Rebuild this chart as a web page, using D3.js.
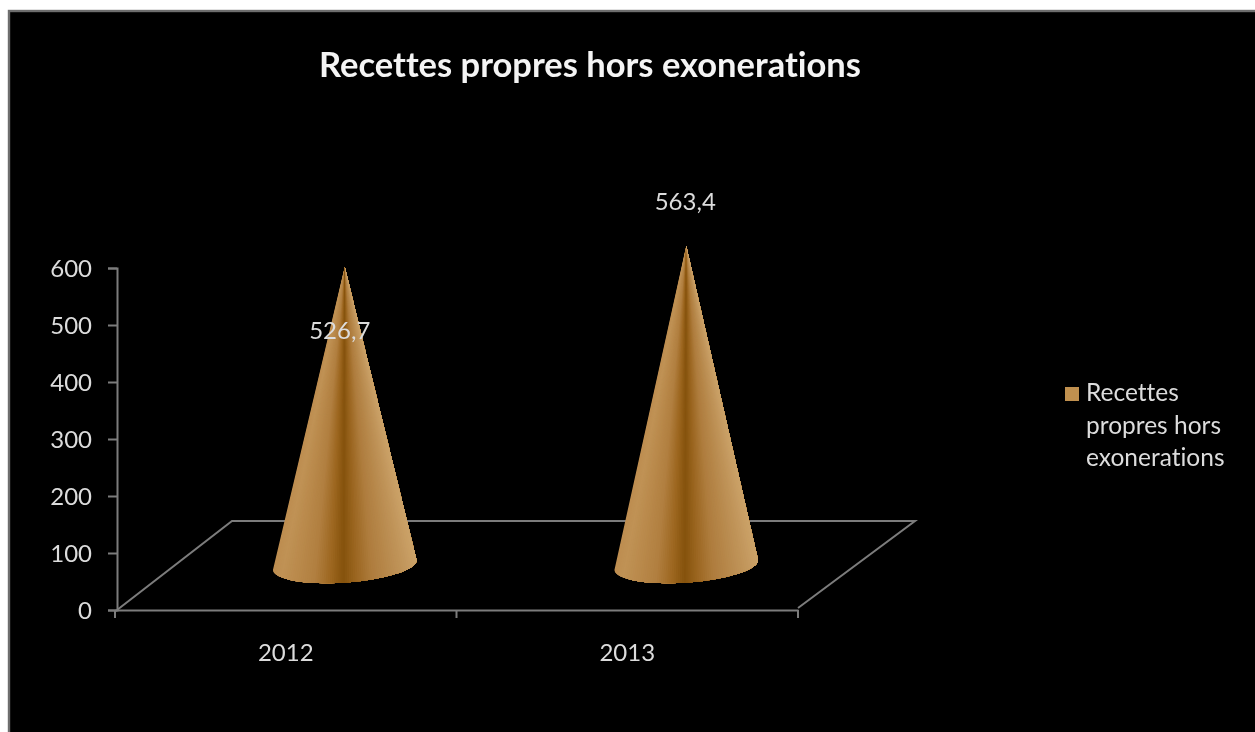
<!DOCTYPE html>
<html><head><meta charset="utf-8">
<script src="https://cdn.jsdelivr.net/npm/d3@7/dist/d3.min.js"></script>
<style>
html,body{margin:0;padding:0;background:#fff;overflow:hidden}
svg{display:block;font-family:Lato,"Noto Sans",sans-serif;font-variant-ligatures:none;filter:blur(0.45px)}
text{fill:#dcdcdc;font-variant-ligatures:none}
</style></head><body>
<div id="chart"></div>
<script>
const title = "Recettes propres hors exonerations";
const categories = ["2012","2013"];
const values = [526.7,563.4];
const valueLabels = ["526,7","563,4"];
const yTicks = [0,100,200,300,400,500,600];
const legendLines = ["Recettes","propres hors","exonerations"];

const W=1255,H=732;
const svg=d3.select("#chart").append("svg").attr("width",W).attr("height",H);
svg.append("rect").attr("x",0).attr("y",0).attr("width",W).attr("height",H).attr("fill","#fff");
svg.append("rect").attr("x",9).attr("y",11).attr("width",W).attr("height",H)
  .attr("fill","#000").attr("stroke","#6e6e6e").attr("stroke-width",2.4);

const y=d3.scaleLinear().domain([0,600]).range([610,268]);
const x=d3.scaleBand().domain(categories).range([115,798]);
const depthX=117, depthY=-89;      // floor depth
const coneDX=59, coneDY=-43;       // cone base centre relative to the front plane
const axisColor="#7c7c7c", lineW=2;

// floor
const floorLeft=117, floorRight=798;
svg.append("path")
  .attr("d",d3.line()([[floorLeft,610],[floorLeft+depthX-2,610+depthY],[floorRight+depthX,610+depthY],[floorRight,608]]))
  .attr("fill","none").attr("stroke",axisColor).attr("stroke-width",lineW);

// axes
const gy=svg.append("g").attr("transform","translate(117,0)")
  .call(d3.axisLeft(y).tickValues(yTicks).tickSize(9).tickPadding(16));
const gx=svg.append("g").attr("transform","translate(0,610)")
  .call(d3.axisBottom(x).tickSize(0).tickPadding(34));
gx.selectAll(".sep").data(d3.range(categories.length+1)).enter().append("line")
  .attr("class","sep").attr("stroke",axisColor).attr("stroke-width",lineW)
  .attr("x1",i=>x.range()[0]+i*x.step()).attr("x2",i=>x.range()[0]+i*x.step())
  .attr("y1",0).attr("y2",8);
[gy,gx].forEach(g=>{
  g.selectAll(".domain,.tick line").attr("stroke",axisColor).attr("stroke-width",lineW);
  g.selectAll("text").attr("fill","#dcdcdc").attr("font-family","Lato,sans-serif").attr("font-size",24);
});
gy.selectAll("text").attr("dy","0.34em");
gx.selectAll("text").attr("dy","0.71em");

// cone shading: ramp across the base, converging at the apex
const shade=d3.scaleLinear()
  .domain([0,0.08,0.3,0.41,0.49,0.57,0.68,0.88,1])
  .range(["#bd8d50","#c09255","#b17f40","#9c661f","#85520c","#9a651f","#ae7c3d","#bf9358","#cba268"]);

const defs=svg.append("defs");
const rx=72, ry=17.5, tilt=-4, slices=72, baseLift=2;
const rad=tilt*Math.PI/180;
categories.forEach((c,i)=>{
  const cx=x(c)+x.bandwidth()/2+coneDX;
  const by=y(0)+coneDY-baseLift;
  const topY=y(values[i])+coneDY;
  const lx=cx-rx*Math.cos(rad), ly=by-rx*Math.sin(rad);
  const rrx=cx+rx*Math.cos(rad), rry=by+rx*Math.sin(rad);
  const outline=`M${cx},${topY}L${lx},${ly}A${rx},${ry} ${tilt} 0 0 ${rrx},${rry}Z`;
  defs.append("clipPath").attr("id","cone"+i).append("path").attr("d",outline);
  const g=svg.append("g").attr("clip-path",`url(#cone${i})`);
  // each wedge runs from its own start to past the right edge, painted over the last,
  // so that no anti-aliased seams appear; all wedges run beyond the base and are clipped.
  const py=by+40, k2=(py-topY)/(by-topY);
  const px=v=>cx+(v-cx)*k2;
  d3.range(slices).forEach(k=>{
    const t0=k/slices, t1=(k+1)/slices;
    const a=k===0?lx-40:lx+(rrx-lx)*t0;
    g.append("path").attr("d",d3.line()([[cx,topY],[px(a),py],[px(rrx)+60,py],[px(rrx)+60,topY]]))
      .attr("fill",shade((t0+t1)/2));
  });
});

// value labels
const labelDX=[-5,-1], labelDY=[72,-36];
categories.forEach((c,i)=>{
  const cx=x(c)+x.bandwidth()/2+coneDX+labelDX[i];
  svg.append("text").attr("x",cx).attr("y",y(values[i])+coneDY+labelDY[i])
    .attr("text-anchor","middle").attr("font-size",24).text(valueLabels[i]);
});

// title
svg.append("text").attr("x",590).attr("y",77).attr("text-anchor","middle")
  .attr("font-size",34.5).attr("font-weight",700).style("fill","#f4f4f4").text(title);

// legend
svg.append("rect").attr("x",1065).attr("y",387).attr("width",14).attr("height",14).attr("fill","#c0904f");
svg.selectAll(".lg").data(legendLines).enter().append("text").attr("class","lg")
  .attr("x",1086).attr("y",(d,i)=>401+i*32.5).attr("font-size",24.5).text(d=>d);
</script>
</body></html>
